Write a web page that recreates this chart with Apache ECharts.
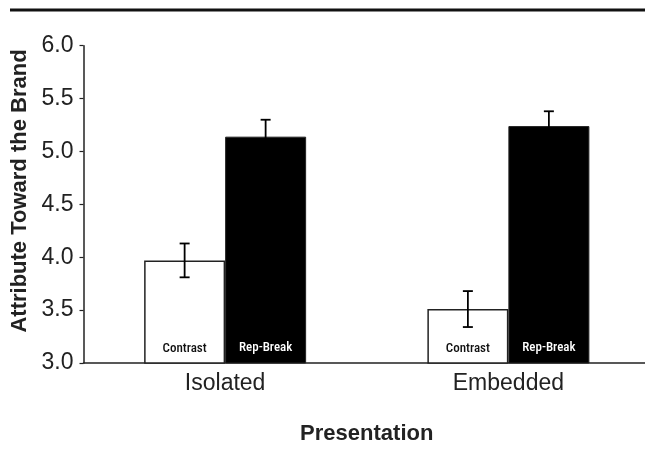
<!DOCTYPE html>
<html>
<head>
<meta charset="utf-8">
<script src="https://cdn.jsdelivr.net/npm/echarts@6/dist/echarts.min.js"></script>
<style>
  html, body { margin: 0; padding: 0; background: #fff; }
  #chart { width: 645px; height: 452px; }
</style>
</head>
<body>
<div id="chart"></div>
<script>
// Presentation conditions on the x axis
const categories = ['Isolated', 'Embedded'];
// Mean attitude toward the brand per condition
const contrastMeans = [3.97, 3.51];
const repBreakMeans = [5.14, 5.24];
// Standard errors drawn as whiskers
const contrastErr = [0.16, 0.17];
const repBreakErr = [0.16, 0.14];
// Y axis tick values
const yTicks = [3.0, 3.5, 4.0, 4.5, 5.0, 5.5, 6.0];

const BAR_W = 81;
const chart = echarts.init(document.getElementById('chart'));

function whiskers(means, errs, side) {
  return {
    type: 'custom',
    z: 5,
    data: means.map((m, i) => [i, m, errs[i]]),
    renderItem: function (params, api) {
      const i = api.value(0), m = api.value(1), e = api.value(2);
      const hi = api.coord([i, m + e]);
      const lo = api.coord([i, m - e]);
      const x = hi[0] + side * BAR_W / 2;
      const cap = 5;
      const style = { stroke: '#000', lineWidth: 1.8 };
      return {
        type: 'group',
        children: [
          { type: 'line', shape: { x1: x, y1: hi[1], x2: x, y2: lo[1] }, style },
          { type: 'line', shape: { x1: x - cap, y1: hi[1], x2: x + cap, y2: hi[1] }, style },
          { type: 'line', shape: { x1: x - cap, y1: lo[1], x2: x + cap, y2: lo[1] }, style }
        ]
      };
    }
  };
}

const barLabel = (text, color) => ({
  show: true,
  position: 'insideBottom',
  distance: 9,
  formatter: text,
  color: color,
  fontFamily: '"Liberation Sans Narrow", "Roboto Condensed", Roboto, sans-serif',
  fontSize: 13,
  fontWeight: 500
});

const baseFont = '"Liberation Sans", Arial, sans-serif';

chart.setOption({
  animation: false,
  backgroundColor: '#fff',
  graphic: [
    {
      type: 'line',
      shape: { x1: 10, y1: 10, x2: 645, y2: 10 },
      style: { stroke: '#111', lineWidth: 3 }
    },
    {
      // vertical y-axis title
      type: 'text',
      x: 20, y: 191,
      rotation: Math.PI / 2,
      style: {
        text: 'Attribute Toward the Brand',
        fill: '#222',
        font: 'bold 22px "Liberation Sans", Arial, sans-serif',
        align: 'center',
        verticalAlign: 'middle'
      }
    }
  ],
  grid: {
    left: 83.5, right: -5, top: 45.7, bottom: 89,
    containLabel: false, outerBoundsMode: 'none'
  },
  xAxis: {
    type: 'category',
    data: categories,
    axisLine: { lineStyle: { color: '#222', width: 1.5 } },
    axisTick: { show: false },
    axisLabel: { color: '#222', fontSize: 23, margin: 9, fontFamily: baseFont },
    name: 'Presentation',
    nameLocation: 'middle',
    nameGap: 60,
    nameTextStyle: { color: '#222', fontSize: 22, fontWeight: 'bold', fontFamily: baseFont }
  },
  yAxis: {
    type: 'value',
    min: yTicks[0],
    max: yTicks[yTicks.length - 1],
    interval: 0.5,
    splitLine: { show: false },
    axisLine: { show: true, lineStyle: { color: '#222', width: 1.5 } },
    axisTick: { show: true, inside: false, length: 4, lineStyle: { color: '#222', width: 1.2 } },
    axisLabel: {
      color: '#222', fontSize: 23, margin: 10, fontFamily: baseFont,
      formatter: v => v.toFixed(1)
    }
  },
  series: [
    {
      name: 'Contrast',
      type: 'bar',
      data: contrastMeans,
      barWidth: BAR_W,
      barGap: '0%',
      itemStyle: { color: '#fff', borderColor: '#222', borderWidth: 1.5 },
      label: barLabel('Contrast', '#111')
    },
    {
      name: 'Rep-Break',
      type: 'bar',
      data: repBreakMeans,
      barWidth: BAR_W,
      itemStyle: { color: '#000', borderColor: '#222', borderWidth: 1 },
      label: barLabel('Rep-Break', '#fff')
    },
    whiskers(contrastMeans, contrastErr, -1),
    whiskers(repBreakMeans, repBreakErr, 1)
  ]
});
</script>
</body>
</html>
